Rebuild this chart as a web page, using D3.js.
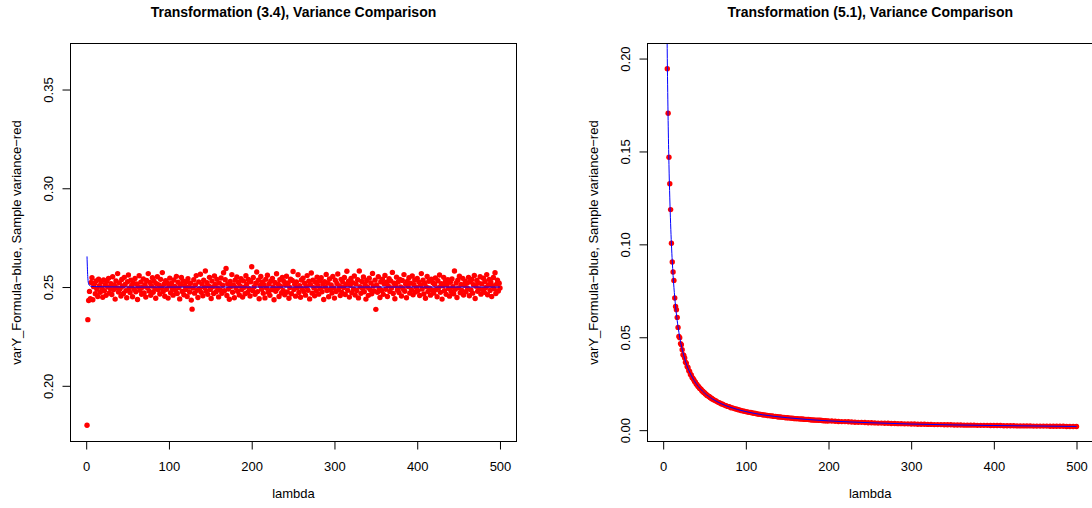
<!DOCTYPE html>
<html>
<head>
<meta charset="utf-8">
<script src="https://cdn.jsdelivr.net/npm/d3@7"></script>
<style>
  body { margin: 0; background: #fff; }
  text { font-family: "Liberation Sans", Arial, sans-serif; fill: #000; }
</style>
</head>
<body>
<div id="chart"></div>
<script>
// canvas size
var width = 1092;
var height = 508;

// left panel: sample variance for lambda = 1..500, transformation (3.4)
var sampleVar34 = [
  0.1800, 0.2335, 0.2432, 0.2478, 0.2441, 0.2523, 0.2547, 0.2436, 0.2502, 0.2518, 0.2466, 0.2531, 0.2489, 0.2452, 0.2540, 0.2507, 0.2473, 0.2526, 0.2495, 0.2448,
  0.2536, 0.2481, 0.2512, 0.2458, 0.2529, 0.2501, 0.2544, 0.2470, 0.2493, 0.2517, 0.2462, 0.2552, 0.2486, 0.2509, 0.2439, 0.2531, 0.2497, 0.2568, 0.2475, 0.2521,
  0.2491, 0.2455, 0.2538, 0.2504, 0.2467, 0.2549, 0.2513, 0.2482, 0.2446, 0.2527, 0.2561, 0.2494, 0.2472, 0.2535, 0.2508, 0.2451, 0.2519, 0.2488, 0.2543, 0.2476,
  0.2516, 0.2437, 0.2502, 0.2557, 0.2484, 0.2525, 0.2463, 0.2499, 0.2541, 0.2470, 0.2512, 0.2449, 0.2533, 0.2496, 0.2568, 0.2480, 0.2523, 0.2458, 0.2505, 0.2547,
  0.2474, 0.2529, 0.2491, 0.2443, 0.2517, 0.2552, 0.2486, 0.2510, 0.2465, 0.2539, 0.2498, 0.2573, 0.2477, 0.2514, 0.2453, 0.2532, 0.2489, 0.2521, 0.2444, 0.2506,
  0.2545, 0.2471, 0.2518, 0.2493, 0.2459, 0.2536, 0.2503, 0.2482, 0.2554, 0.2467, 0.2524, 0.2497, 0.2440, 0.2512, 0.2548, 0.2478, 0.2531, 0.2461, 0.2508, 0.2487,
  0.2527, 0.2452, 0.2542, 0.2500, 0.2475, 0.2519, 0.2434, 0.2388, 0.2495, 0.2537, 0.2469, 0.2511, 0.2558, 0.2484, 0.2447, 0.2526, 0.2492, 0.2565, 0.2473, 0.2515,
  0.2456, 0.2534, 0.2498, 0.2581, 0.2479, 0.2522, 0.2463, 0.2505, 0.2549, 0.2488, 0.2442, 0.2530, 0.2501, 0.2467, 0.2556, 0.2513, 0.2476, 0.2539, 0.2494, 0.2450,
  0.2520, 0.2485, 0.2546, 0.2468, 0.2509, 0.2572, 0.2481, 0.2537, 0.2594, 0.2457, 0.2516, 0.2490, 0.2438, 0.2528, 0.2503, 0.2563, 0.2474, 0.2511, 0.2446, 0.2535,
  0.2497, 0.2551, 0.2479, 0.2523, 0.2460, 0.2506, 0.2542, 0.2487, 0.2449, 0.2531, 0.2499, 0.2466, 0.2557, 0.2514, 0.2472, 0.2538, 0.2492, 0.2455, 0.2527, 0.2603,
  0.2483, 0.2548, 0.2502, 0.2463, 0.2519, 0.2576, 0.2477, 0.2534, 0.2441, 0.2508, 0.2553, 0.2489, 0.2526, 0.2468, 0.2512, 0.2445, 0.2539, 0.2495, 0.2560, 0.2474,
  0.2517, 0.2458, 0.2530, 0.2486, 0.2544, 0.2501, 0.2436, 0.2523, 0.2479, 0.2567, 0.2492, 0.2515, 0.2452, 0.2537, 0.2504, 0.2470, 0.2549, 0.2483, 0.2528, 0.2461,
  0.2510, 0.2555, 0.2475, 0.2521, 0.2443, 0.2498, 0.2540, 0.2466, 0.2533, 0.2579, 0.2487, 0.2514, 0.2454, 0.2526, 0.2496, 0.2562, 0.2472, 0.2507, 0.2448, 0.2536,
  0.2491, 0.2545, 0.2478, 0.2519, 0.2459, 0.2503, 0.2558, 0.2484, 0.2529, 0.2440, 0.2512, 0.2571, 0.2469, 0.2535, 0.2497, 0.2456, 0.2524, 0.2481, 0.2550, 0.2508,
  0.2464, 0.2532, 0.2493, 0.2547, 0.2476, 0.2515, 0.2437, 0.2527, 0.2500, 0.2564, 0.2482, 0.2520, 0.2451, 0.2541, 0.2488, 0.2511, 0.2470, 0.2553, 0.2495, 0.2444,
  0.2534, 0.2477, 0.2518, 0.2566, 0.2486, 0.2505, 0.2457, 0.2539, 0.2473, 0.2525, 0.2498, 0.2548, 0.2462, 0.2513, 0.2580, 0.2484, 0.2530, 0.2449, 0.2509, 0.2543,
  0.2471, 0.2522, 0.2490, 0.2556, 0.2460, 0.2516, 0.2483, 0.2537, 0.2445, 0.2581, 0.2502, 0.2468, 0.2528, 0.2493, 0.2551, 0.2476, 0.2514, 0.2439, 0.2533, 0.2499,
  0.2458, 0.2545, 0.2487, 0.2521, 0.2466, 0.2569, 0.2505, 0.2480, 0.2535, 0.2387, 0.2511, 0.2474, 0.2552, 0.2494, 0.2447, 0.2527, 0.2483, 0.2540, 0.2463, 0.2517,
  0.2559, 0.2489, 0.2524, 0.2452, 0.2506, 0.2542, 0.2478, 0.2531, 0.2495, 0.2574, 0.2467, 0.2519, 0.2441, 0.2508, 0.2550, 0.2485, 0.2526, 0.2472, 0.2538, 0.2500,
  0.2455, 0.2533, 0.2491, 0.2563, 0.2479, 0.2515, 0.2446, 0.2528, 0.2503, 0.2547, 0.2469, 0.2520, 0.2486, 0.2556, 0.2461, 0.2512, 0.2536, 0.2475, 0.2498, 0.2543,
  0.2482, 0.2525, 0.2457, 0.2510, 0.2568, 0.2490, 0.2534, 0.2465, 0.2518, 0.2443, 0.2501, 0.2553, 0.2477, 0.2529, 0.2494, 0.2459, 0.2540, 0.2484, 0.2522, 0.2470,
  0.2514, 0.2546, 0.2488, 0.2451, 0.2532, 0.2497, 0.2561, 0.2473, 0.2517, 0.2439, 0.2506, 0.2549, 0.2481, 0.2527, 0.2463, 0.2511, 0.2537, 0.2492, 0.2454, 0.2524,
  0.2478, 0.2541, 0.2502, 0.2466, 0.2581, 0.2489, 0.2520, 0.2447, 0.2535, 0.2496, 0.2555, 0.2471, 0.2513, 0.2483, 0.2544, 0.2460, 0.2509, 0.2530, 0.2476, 0.2519,
  0.2493, 0.2549, 0.2456, 0.2526, 0.2485, 0.2538, 0.2469, 0.2512, 0.2559, 0.2442, 0.2504, 0.2533, 0.2479, 0.2521, 0.2490, 0.2552, 0.2464, 0.2516, 0.2487, 0.2545,
  0.2474, 0.2528, 0.2498, 0.2563, 0.2461, 0.2510, 0.2539, 0.2483, 0.2524, 0.2452, 0.2507, 0.2548, 0.2491, 0.2572, 0.2467, 0.2515, 0.2534, 0.2480, 0.2519, 0.2495
];
var lambda34 = d3.range(1, 501);

// left panel: formula variance (blue line)
var formulaLambda34 = [1, 2, 3, 4, 5, 7, 10, 20, 50, 100, 500];
var formulaVar34 = [0.2655, 0.2545, 0.2515, 0.2508, 0.2505, 0.2503, 0.2502, 0.2501, 0.2500, 0.2500, 0.2500];

// right panel: sample variance, transformation (5.1)
var lambda51 = d3.range(5, 61).concat(d3.range(62, 201, 2), d3.range(204, 501, 4));
var sampleVar51 = [
  0.1945, 0.1706, 0.1469, 0.1326, 0.1187, 0.1006, 0.0905, 0.0851, 0.0806, 0.0711, 0.0666, 0.0648, 0.0607, 0.0553, 0.0504, 0.0498, 0.0466, 0.0460, 0.0433, 0.0406,
  0.0402, 0.0389, 0.0366, 0.0361, 0.0342, 0.0337, 0.0320, 0.0316, 0.0300, 0.0297, 0.0284, 0.0279, 0.0271, 0.0262, 0.0258, 0.0249, 0.0245, 0.0236, 0.0234, 0.0226,
  0.0223, 0.0219, 0.0211, 0.0210, 0.0203, 0.0201, 0.0195, 0.0194, 0.0187, 0.0186, 0.0181, 0.0180, 0.0174, 0.0173, 0.0169, 0.0167,
  0.0161, 0.0157, 0.0151, 0.0148, 0.0142, 0.0140, 0.0135, 0.0132, 0.0128, 0.0126, 0.0121, 0.0120, 0.0116, 0.0114, 0.0111, 0.0109, 0.0106, 0.0104, 0.0102, 0.0100,
  0.0098, 0.0096, 0.0095, 0.0092, 0.0091, 0.0090, 0.0087, 0.0086, 0.0085, 0.0083, 0.0082, 0.0081, 0.0079, 0.0078, 0.0077, 0.0076, 0.0074, 0.0074, 0.0072, 0.0071,
  0.0071, 0.0069, 0.0069, 0.0067, 0.0067, 0.0066, 0.0065, 0.0064, 0.0063, 0.0062, 0.0062, 0.0061, 0.0060, 0.0060, 0.0059, 0.0058, 0.0058, 0.0057, 0.0056, 0.0055,
  0.0055, 0.0054, 0.0054, 0.0053, 0.0053, 0.0052, 0.0051, 0.0051, 0.0050, 0.0050,
  0.0049, 0.0048, 0.0047, 0.0046, 0.0046, 0.0045, 0.0044, 0.0043, 0.0042, 0.0042, 0.0041, 0.0040, 0.0040, 0.0039, 0.0038, 0.0038, 0.0037, 0.0037, 0.0036, 0.0036,
  0.0035, 0.0035, 0.0034, 0.0034, 0.0033, 0.0033, 0.0032, 0.0032, 0.0032, 0.0031, 0.0031, 0.0030, 0.0030, 0.0030, 0.0029, 0.0029, 0.0029, 0.0028, 0.0028, 0.0028,
  0.0027, 0.0027, 0.0027, 0.0027, 0.0026, 0.0026, 0.0026, 0.0026, 0.0025, 0.0025, 0.0025, 0.0025, 0.0024, 0.0024, 0.0024, 0.0024, 0.0023, 0.0023, 0.0023, 0.0023,
  0.0023, 0.0022, 0.0022, 0.0022, 0.0022, 0.0022, 0.0021, 0.0021, 0.0021, 0.0021, 0.0021, 0.0020, 0.0020, 0.0020, 0.0020
];

// right panel: formula variance (blue line)
var formulaLambda51 = [4, 5, 6, 7, 8, 9, 10, 12, 14, 16, 18, 20, 25, 30, 35, 40, 50, 60, 70, 80, 100, 120, 150, 200, 250, 300, 400, 500];
var formulaVar51 = [0.2500, 0.2000, 0.1667, 0.1429, 0.1250, 0.1111, 0.1000, 0.0833, 0.0714, 0.0625, 0.0556, 0.0500, 0.0400, 0.0333, 0.0286, 0.0250,
  0.0200, 0.0167, 0.0143, 0.0125, 0.0100, 0.0083, 0.0067, 0.0050, 0.0040, 0.0033, 0.0025, 0.0020];

var xTicks = [0, 100, 200, 300, 400, 500];
var yTicks34 = [0.20, 0.25, 0.30, 0.35];
var yTicks51 = [0.00, 0.05, 0.10, 0.15, 0.20];

var svg = d3.select("#chart")
    .append("svg")
        .attr("width", width)
        .attr("height", height);

function drawPanel(id, left, right, title, lambda, sample, fLambda, fVar, yDomain, yTicks) {
    var top = 43.5, bottom = 441.5;

    var x = d3.scaleLinear().domain([-18.96, 519.96]).range([left, right]);
    var y = d3.scaleLinear().domain(yDomain).range([bottom, top]);

    var g = svg.append("g");

    g.append("clipPath")
        .attr("id", "clip" + id)
        .append("rect")
            .attr("x", left).attr("y", top)
            .attr("width", right - left).attr("height", bottom - top);

    var plot = g.append("g").attr("clip-path", "url(#clip" + id + ")");

    plot.selectAll("circle")
        .data(sample)
        .enter()
        .append("circle")
        .attr("cx", function(d, i) { return x(lambda[i]); })
        .attr("cy", function(d) { return y(d); })
        .attr("r", 2.7)
        .style("fill", "#ff0000");

    var line = d3.line()
        .x(function(d, i) { return x(fLambda[i]); })
        .y(function(d) { return y(d); })
        .curve(d3.curveMonotoneX);

    plot.append("path")
        .datum(fVar)
        .attr("d", line)
        .style("fill", "none")
        .style("stroke", "#0000ff")
        .style("stroke-width", 1);

    // box
    g.append("rect")
        .attr("x", left).attr("y", top)
        .attr("width", right - left).attr("height", bottom - top)
        .style("fill", "none")
        .style("stroke", "#000")
        .style("stroke-width", 1);

    // x axis
    var xAxis = g.append("g")
        .attr("transform", "translate(0," + bottom + ")")
        .call(d3.axisBottom(x).tickValues(xTicks).tickSize(8).tickPadding(12.5).tickFormat(d3.format("d")));
    xAxis.select(".domain").attr("d", "M" + x(0) + ",0H" + x(500));
    xAxis.selectAll("text").style("font-size", "13px").style("font-family", "Liberation Sans, Arial, sans-serif");

    // y axis with rotated labels
    var yAxis = g.append("g")
        .attr("transform", "translate(" + left + ",0)")
        .call(d3.axisLeft(y).tickValues(yTicks).tickSize(8).tickFormat(d3.format(".2f")));
    yAxis.select(".domain").attr("d", "M0," + y(yTicks[0]) + "V" + y(yTicks[yTicks.length - 1]));
    yAxis.selectAll("text")
        .attr("x", null).attr("dy", null)
        .attr("transform", "translate(-18,0) rotate(-90)")
        .attr("text-anchor", "middle")
        .style("font-size", "13px")
        .style("font-family", "Liberation Sans, Arial, sans-serif");

    g.append("text")
        .attr("x", (left + right) / 2)
        .attr("y", 17)
        .attr("text-anchor", "middle")
        .style("font-size", "14px")
        .style("font-weight", "bold")
        .text(title);

    g.append("text")
        .attr("x", (left + right) / 2)
        .attr("y", 498)
        .attr("text-anchor", "middle")
        .style("font-size", "13px")
        .text("lambda");

    g.append("text")
        .attr("transform", "translate(" + (left - 50) + "," + ((top + bottom) / 2) + ") rotate(-90)")
        .attr("text-anchor", "middle")
        .style("font-size", "13px")
        .text("varY_Formula\u2212blue, Sample variance\u2212red");
}

drawPanel("a", 70.5, 516.5, "Transformation (3.4), Variance Comparison",
    lambda34, sampleVar34, formulaLambda34, formulaVar34, [0.1718, 0.3733], yTicks34);
drawPanel("b", 647.5, 1093, "Transformation (5.1), Variance Comparison",
    lambda51, sampleVar51, formulaLambda51, formulaVar51, [-0.0061, 0.2081], yTicks51);
</script>
</body>
</html>
